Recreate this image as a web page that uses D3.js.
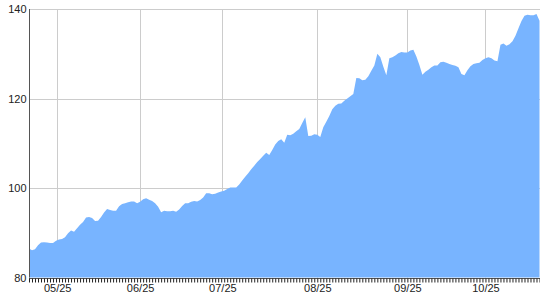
<!DOCTYPE html>
<html><head><meta charset="utf-8">
<script src="https://cdn.jsdelivr.net/npm/d3@7"></script>
<style>html,body{margin:0;padding:0;background:#fff;}svg{display:block;}</style>
</head><body>
<svg id="c" width="540" height="300"></svg>
<script>
const values = [86.5,86.1,86.3,87.2,87.8,87.9,87.8,87.7,87.7,88.2,
88.5,88.6,89.0,89.9,90.5,90.2,91.0,91.8,92.4,93.4,
93.5,93.3,92.6,92.7,93.5,94.5,95.3,95.1,94.9,94.9,
95.9,96.4,96.6,96.8,97.0,97.0,96.6,96.9,97.5,97.7,
97.4,97.1,96.6,95.8,94.6,94.9,94.8,94.8,94.9,94.7,
95.2,96.0,96.6,96.6,96.9,97.1,97.0,97.3,97.9,98.8,
98.8,98.6,98.7,99.0,99.2,99.4,99.8,100.1,100.1,100.1,
100.8,101.7,102.5,103.3,104.2,105.0,105.8,106.5,107.2,107.9,
107.4,108.5,109.7,110.5,110.9,110.1,111.9,111.8,112.1,112.7,
113.2,114.5,115.8,111.6,111.7,112.0,111.9,111.4,113.6,114.8,
116.1,117.6,118.4,118.8,118.9,119.5,120.0,120.5,121.0,124.6,
124.5,124.1,124.2,125.0,126.2,127.4,130.0,129.2,127.1,125.2,
129.0,129.2,129.6,130.1,130.4,130.3,130.3,130.7,130.9,129.4,
127.5,125.3,126.0,126.4,127.0,127.4,127.4,128.1,128.2,128.0,
127.7,127.5,127.3,127.0,125.5,125.2,126.3,127.2,127.7,127.9,
128.0,128.6,129.0,129.2,129.0,128.5,128.3,132.0,132.3,131.8,
132.1,132.8,134.0,135.7,137.3,138.5,138.7,138.6,138.6,138.9,
137.4];
const xTickLabels = ["05/25","06/25","07/25","08/25","09/25","10/25"];
const xTickIndex = [9.4, 37, 64.4, 96, 126, 152];
const yTicks = [80, 100, 120, 140];

const svg = d3.select("#c");
const L = 29, R = 539.5, T = 9, B = 277.5;
const x = d3.scaleLinear().domain([0, values.length - 1]).range([L, R]);
const y = d3.scaleLinear().domain([80, 140]).range([B, T]);

// grid
const g = svg.append("g");
g.selectAll("line.h").data(yTicks.slice(1)).join("line")
  .attr("x1", L).attr("x2", 540)
  .attr("y1", d => Math.round(y(d)) + 0.5).attr("y2", d => Math.round(y(d)) + 0.5)
  .attr("stroke", "#cccccc").attr("stroke-width", 1);
g.selectAll("line.v").data(xTickIndex).join("line")
  .attr("x1", d => Math.round(x(d)) + 0.5).attr("x2", d => Math.round(x(d)) + 0.5)
  .attr("y1", T).attr("y2", B)
  .attr("stroke", "#cccccc").attr("stroke-width", 1);

// area
const area = d3.area().x((d, i) => x(i)).y0(y(80)).y1(d => y(d));
svg.append("path").datum(values).attr("d", area).attr("fill", "#78b4ff");

// x axis with a tick per data point
const xAxis = d3.axisBottom(x).tickValues(d3.range(values.length)).tickSize(4).tickFormat("");
const ax = svg.append("g").attr("transform", `translate(0,${Math.round(B) + 0.5})`).call(xAxis);
ax.select(".domain").attr("stroke", "#555").attr("d", `M${L},0H540`);
ax.selectAll(".tick line").attr("stroke", "#222");

const xl = d3.axisBottom(x).tickValues(xTickIndex).tickSize(0).tickPadding(6)
  .tickFormat((d, i) => xTickLabels[i]);
const axl = svg.append("g").attr("transform", `translate(0,${Math.round(B) + 0.5})`).call(xl);
axl.select(".domain").remove();
axl.selectAll("text").attr("font-family", "Liberation Sans, Arial, sans-serif")
  .attr("font-size", 11).attr("fill", "#222");

// y axis
const yAxis = d3.axisLeft(y).tickValues(yTicks).tickSize(0).tickPadding(3).tickFormat(d3.format("d"));
const ay = svg.append("g").attr("transform", `translate(${L + 0.5},0)`).call(yAxis);
ay.select(".domain").attr("stroke", "#555").attr("d", `M0,${T}V${B}`);
ay.selectAll("text").attr("font-family", "Liberation Sans, Arial, sans-serif")
  .attr("font-size", 11).attr("fill", "#222");
</script>
</body></html>
